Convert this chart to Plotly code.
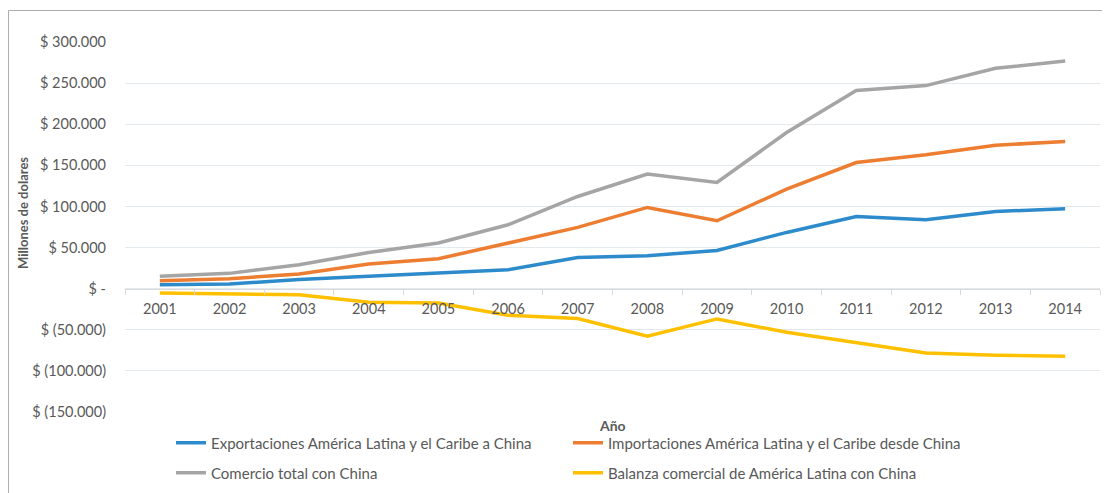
import plotly.graph_objects as go

years = ["2001", "2002", "2003", "2004", "2005", "2006", "2007",
         "2008", "2009", "2010", "2011", "2012", "2013", "2014"]
exportaciones = [4900, 5700, 11000, 15000, 19000, 23000, 38000,
                 40000, 46500, 68400, 87800, 83800, 93900, 97200]
importaciones = [9700, 12100, 17800, 30000, 36400, 55500, 74500,
                 98800, 82600, 121000, 153400, 162800, 174500, 178900]
comercio_total = [15000, 18600, 29100, 44100, 55500, 77700, 112100,
                  139300, 129100, 189900, 240900, 247000, 268000, 276900]
balanza = [-5300, -6500, -7300, -16600, -17400, -32400, -36400,
           -57900, -36800, -53100, -66000, -78100, -81000, -82200]

y_tickvals = [300000, 250000, 200000, 150000, 100000, 50000, 0,
              -50000, -100000, -150000]
y_ticktext = ["$ 300.000", "$ 250.000", "$ 200.000", "$ 150.000",
              "$ 100.000", "$ 50.000", "$ -", "$ (50.000)",
              "$ (100.000)", "$ (150.000)"]

names = ["Exportaciones América Latina y el Caribe a China",
         "Importaciones América Latina y el Caribe desde China",
         "Comercio total con China",
         "Balanza comercial de América Latina con China"]
colors = ["#2E8BCB", "#ED7D31", "#A5A5A5", "#FFC000"]
legends = ["legend", "legend", "legend2", "legend2"]
series = [exportaciones, importaciones, comercio_total, balanza]

FONT = "Lato"
TXT = "#595959"
TICK_SIZE = 14.5
LEG_SIZE = 15

fig = go.Figure()
for n, c, s, lg in zip(names, colors, series, legends):
    fig.add_trace(go.Scatter(x=years, y=s, mode="lines", name=n, legend=lg,
                             line=dict(color=c, width=3.5)))

W, H = 1110, 493
OFF = 8  # page body margin offset
# plot area in screen pixels: x 125..1100, y 42..412
L = 125 - OFF
T = 42 - OFF
R = W - (1100 - OFF)
B = H - (412 - OFF)

def px(x):
    return (x - OFF - L) / (W - L - R)

def py(y):
    return (H - B - (y - OFF)) / (H - T - B)

leg_common = dict(orientation="h", xanchor="left", yanchor="middle",
                  entrywidth=352, entrywidthmode="pixels",
                  font=dict(family=FONT, size=LEG_SIZE, color=TXT),
                  bgcolor="rgba(0,0,0,0)", borderwidth=0)

fig.update_layout(
    width=W, height=H,
    margin=dict(l=L, r=R, t=T, b=B, autoexpand=False),
    paper_bgcolor="white", plot_bgcolor="white",
    font=dict(family=FONT, size=TICK_SIZE, color=TXT),
    showlegend=True,
    legend=dict(x=px(171), y=py(443), **leg_common),
    legend2=dict(x=px(171), y=py(473), **leg_common),
    xaxis=dict(type="category", anchor="free", position=1/3,
               showline=True, linecolor="#D9D9D9", linewidth=1,
               ticks="outside", tickson="boundaries", ticklen=5,
               tickcolor="#D9D9D9", showgrid=False,
               ticklabelstandoff=7,
               tickfont=dict(family=FONT, size=TICK_SIZE, color=TXT),
               range=[-0.5, 13.5]),
    yaxis=dict(range=[-150000, 300000], tickvals=y_tickvals,
               ticktext=y_ticktext, showgrid=True, gridcolor="#E4E9EE",
               gridwidth=1, zeroline=False, showline=False,
               ticks="", ticklabelstandoff=18,
               tickfont=dict(family=FONT, size=TICK_SIZE, color=TXT)),
)

fig.add_annotation(text="<b>Millones de dolares</b>", textangle=-90,
                   xref="paper", yref="paper", x=px(23), y=py(213),
                   xanchor="center", yanchor="middle",
                   showarrow=False, font=dict(family=FONT, size=13, color=TXT))
fig.add_annotation(text="<b>Año</b>", xref="paper", yref="paper",
                   x=px(612), y=py(425), xanchor="center", yanchor="middle",
                   showarrow=False,
                   font=dict(family=FONT, size=14, color=TXT))

# chart frame: top and left edges only
fig.add_shape(type="line", xref="paper", yref="paper",
              x0=px(8.5), x1=px(1120), y0=py(10.5), y1=py(10.5),
              line=dict(color="#ADADAD", width=1), layer="below")
fig.add_shape(type="line", xref="paper", yref="paper",
              x0=px(8.5), x1=px(8.5), y0=py(10.5), y1=py(505),
              line=dict(color="#ADADAD", width=1), layer="below")

fig.write_html("out.html")
